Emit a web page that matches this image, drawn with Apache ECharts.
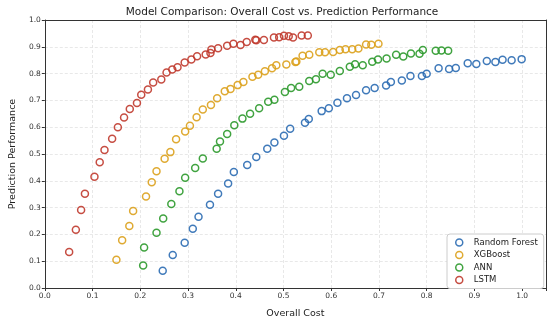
<!DOCTYPE html>
<html>
<head>
<meta charset="utf-8">
<script src="https://cdn.jsdelivr.net/npm/echarts@6/dist/echarts.min.js"></script>
<style>html,body{margin:0;padding:0;background:#fff}#c{width:550px;height:324px}</style>
</head>
<body>
<div id="c"></div>
<script>
const seriesNames = ['Random Forest', 'XGBoost', 'ANN', 'LSTM'];
const xTicks = [0.0, 0.1, 0.2, 0.3, 0.4, 0.5, 0.6, 0.7, 0.8, 0.9, 1.0];
const yTicks = [0.0, 0.1, 0.2, 0.3, 0.4, 0.5, 0.6, 0.7, 0.8, 0.9, 1.0];

const rfCost = [0.247,0.268,0.293,0.310,0.322,0.346,0.363,0.384,0.396,0.424,0.443,0.466,0.481,0.501,0.514,0.545,0.553,0.580,0.595,0.613,0.633,0.652,0.673,0.691,0.715,0.725,0.748,0.766,0.790,0.800,0.825,0.847,0.861,0.886,0.904,0.926,0.944,0.959,0.978,0.999];
const rfPerf = [0.064,0.123,0.169,0.221,0.266,0.311,0.352,0.390,0.433,0.459,0.489,0.520,0.543,0.568,0.594,0.617,0.631,0.660,0.671,0.691,0.708,0.720,0.738,0.746,0.756,0.769,0.774,0.791,0.791,0.799,0.820,0.817,0.821,0.839,0.836,0.847,0.843,0.852,0.850,0.854];

const xgbCost = [0.150,0.162,0.177,0.185,0.212,0.224,0.234,0.251,0.263,0.275,0.294,0.304,0.318,0.331,0.348,0.361,0.377,0.389,0.404,0.416,0.435,0.447,0.461,0.476,0.485,0.506,0.525,0.527,0.540,0.554,0.575,0.587,0.604,0.618,0.630,0.644,0.657,0.673,0.684,0.699];
const xgbPerf = [0.105,0.178,0.231,0.287,0.341,0.395,0.436,0.482,0.507,0.555,0.584,0.605,0.637,0.666,0.683,0.708,0.734,0.743,0.757,0.769,0.788,0.796,0.809,0.820,0.831,0.834,0.843,0.845,0.867,0.870,0.880,0.880,0.881,0.888,0.891,0.891,0.894,0.909,0.908,0.911];

const annCost = [0.206,0.208,0.234,0.248,0.265,0.282,0.294,0.315,0.331,0.360,0.367,0.382,0.397,0.414,0.430,0.449,0.468,0.481,0.503,0.516,0.533,0.554,0.568,0.582,0.599,0.618,0.639,0.650,0.666,0.686,0.698,0.716,0.736,0.751,0.767,0.785,0.792,0.819,0.831,0.845];
const annPerf = [0.084,0.151,0.206,0.259,0.313,0.361,0.411,0.448,0.483,0.520,0.547,0.575,0.607,0.632,0.650,0.671,0.695,0.702,0.731,0.746,0.751,0.772,0.779,0.799,0.796,0.810,0.826,0.835,0.831,0.844,0.853,0.856,0.870,0.864,0.875,0.874,0.888,0.885,0.886,0.885];

const lstmCost = [0.051,0.065,0.076,0.084,0.104,0.115,0.125,0.141,0.153,0.166,0.178,0.193,0.202,0.216,0.227,0.244,0.255,0.267,0.278,0.293,0.307,0.319,0.337,0.347,0.349,0.363,0.382,0.395,0.410,0.423,0.441,0.443,0.459,0.480,0.491,0.501,0.511,0.520,0.538,0.551];
const lstmPerf = [0.134,0.217,0.291,0.352,0.415,0.469,0.515,0.557,0.600,0.636,0.668,0.690,0.721,0.741,0.767,0.778,0.804,0.815,0.824,0.841,0.853,0.865,0.871,0.877,0.890,0.895,0.904,0.911,0.907,0.918,0.926,0.924,0.925,0.935,0.936,0.941,0.939,0.935,0.942,0.942];

const colors = ['#2b6cb3', '#dba11c', '#2b992b', '#c03a2e'];
const costs = [rfCost, xgbCost, annCost, lstmCost];
const perfs = [rfPerf, xgbPerf, annPerf, lstmPerf];

const font = 'DejaVu Sans';
const chart = echarts.init(document.getElementById('c'), null, {renderer: 'canvas'});
const series = seriesNames.map((name, i) => ({
  name: name,
  type: 'scatter',
  xAxisIndex: 0,
  yAxisIndex: 0,
  symbol: 'circle',
  symbolSize: 7,
  data: costs[i].map((c, j) => [c, perfs[i][j]]),
  itemStyle: {color: 'rgba(255,255,255,0)', borderColor: colors[i], borderWidth: 1.5, opacity: 0.9},
  emphasis: {disabled: true}
}));

const tickFmt = v => v.toFixed(1);
chart.setOption({
  animation: false,
  backgroundColor: '#fff',
  title: {
    text: 'Model Comparison: Overall Cost vs. Prediction Performance',
    left: 277, top: 2, textAlign: 'center',
    textStyle: {fontFamily: font, fontSize: 10.5, fontWeight: 'normal', color: '#222'}
  },
  grid: {left: 37, right: 4, top: 20, bottom: 32, containLabel: false},
  legend: {
    data: seriesNames.map((n, i) => ({name: n, icon: 'circle', itemStyle: {color: 'rgba(255,255,255,0)', borderColor: colors[i], borderWidth: 1.5}})),
    orient: 'vertical',
    left: 447, top: 234,
    itemWidth: 7, itemHeight: 7, itemGap: 3.5,
    padding: [4, 6, 4, 8],
    backgroundColor: '#fff',
    borderColor: '#ccc', borderWidth: 1, borderRadius: 3,
    textStyle: {fontFamily: font, fontSize: 8.5, color: '#222', padding: [0, 0, 0, 6]}
  },
  xAxis: [{
    type: 'value', min: 0, max: 1.05, interval: 0.1,
    name: 'Overall Cost', nameLocation: 'middle', nameGap: 21,
    nameTextStyle: {fontFamily: font, fontSize: 9.5, color: '#222'},
    axisLine: {show: true, lineStyle: {color: '#333', width: 1}},
    axisTick: {show: true, length: 3, lineStyle: {color: '#333'}},
    axisLabel: {fontFamily: font, fontSize: 7.5, color: '#333', margin: 4,
      formatter: v => xTicks.some(t => Math.abs(t - v) < 1e-9) ? tickFmt(v) : ''},
    splitLine: {show: true, lineStyle: {color: '#e2e2e2', type: [3, 2], width: 0.8}}
  }, {
    type: 'value', min: 0, max: 1.05, position: 'top',
    axisLine: {show: true, onZero: false, lineStyle: {color: '#333', width: 1}},
    axisTick: {show: false}, axisLabel: {show: false}, splitLine: {show: false}
  }],
  yAxis: [{
    type: 'value', min: 0, max: 1.0, interval: 0.1,
    name: 'Prediction Performance', nameLocation: 'middle', nameGap: 22,
    nameTextStyle: {fontFamily: font, fontSize: 9.5, color: '#222'},
    axisLine: {show: true, lineStyle: {color: '#333', width: 1}},
    axisTick: {show: true, length: 3, lineStyle: {color: '#333'}},
    axisLabel: {fontFamily: font, fontSize: 7.5, color: '#333', margin: 4,
      formatter: v => yTicks.some(t => Math.abs(t - v) < 1e-9) ? tickFmt(v) : ''},
    splitLine: {show: true, lineStyle: {color: '#e2e2e2', type: [3, 2], width: 0.8}}
  }, {
    type: 'value', min: 0, max: 1.0, position: 'right',
    axisLine: {show: true, onZero: false, lineStyle: {color: '#333', width: 1}},
    axisTick: {show: false}, axisLabel: {show: false}, splitLine: {show: false}
  }],
  series: series
});
</script>
</body>
</html>
